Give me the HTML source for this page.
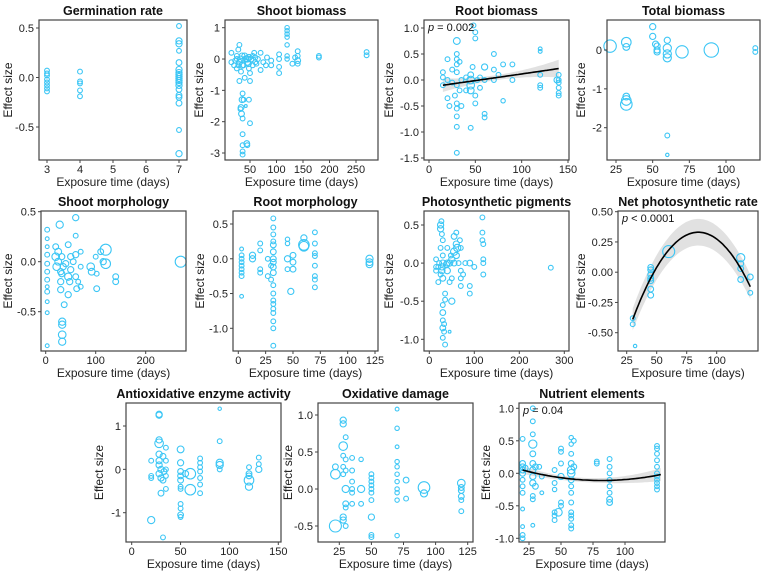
<!DOCTYPE html>
<html><head><meta charset="utf-8">
<style>
html,body{margin:0;padding:0;background:#fff;}
svg{display:block;font-family:"Liberation Sans",Arial,sans-serif;}
</style></head>
<body>
<svg id="chart" width="764" height="573" viewBox="0 0 764 573" xmlns="http://www.w3.org/2000/svg"></svg>
<script>
// ---- data: [exposure time (days), effect size, weight] ----
const germinationPts = [[3,0.07,1],[3,0.04,1],[3,0.02,1],[3,-0.02,1],[3,-0.05,1],[3,-0.08,1],[3,-0.11,1],[3,-0.14,1],
[4,0.06,1],[4,-0.04,1],[4,-0.06,1],[4,-0.13,1],[4,-0.19,1],
[7,0.52,1],[7,0.37,1.3],[7,0.34,1.3],[7,0.27,1],[7,0.15,1.2],[7,0.08,1.3],[7,0.05,1.3],[7,0.03,1.3],[7,0.01,1.3],[7,-0.01,1.3],[7,-0.03,1.3],[7,-0.05,1.3],[7,-0.08,1.3],[7,-0.12,1.2],[7,-0.18,1.2],[7,-0.2,1.2],[7,-0.26,1.2],[7,-0.53,1],[7,-0.77,1.3]];
const shootBiomassPts = [[15,0.2,1],[15,-0.1,1],[20,-0.2,1],[22,-0.05,1],[25,0.1,1],[25,-0.3,1],[28,0.3,1],[30,0.45,1],[30,-0.1,1.2],[30,-0.7,1],[32,0,1.2],[33,-0.4,1],[35,-0.2,1.2],[35,0.1,1.2],[36,-1.1,1],[35,-1.3,1.2],[33,-1.55,1.2],[32,-1.6,1],[34,-1.75,1.2],[36,-1.9,1],[38,-1.3,1],[36,-2.4,1],[36,-2.75,1],[36,-2.95,1],[36,-3.05,1],[44,-2.7,1.2],[45,-2.75,1],[42,-1.5,0.6],[48,-1.3,1],[50,-2.05,1],[40,-0.6,1],[42,0,1.3],[45,-0.1,1.3],[48,0.05,1.3],[48,-0.3,1],[50,-0.7,1],[50,-0.45,1],[52,0,1.2],[55,-0.2,1],[58,0.2,1],[60,0.05,1],[62,-0.15,1],[65,0,1],[70,0.2,1],[70,-0.35,1],[75,-0.1,1],[80,-0.2,1],[82,0.05,1],[90,-0.05,1],[90,-0.2,1],[105,0.15,1],[105,0,1],[105,-0.25,1],[105,-0.45,1],[120,1,0.9],[120,0.9,0.9],[120,0.8,0.9],[120,0.7,0.9],[120,0.45,0.9],[120,0.1,0.9],[120,0,0.9],[130,-0.15,1],[135,0.05,1],[140,0.25,1],[140,0.1,1],[140,-0.05,1.2],[140,-0.15,1],[180,0.05,1],[180,0.1,1],[270,0.22,1],[270,0.12,1],[40,0.1,1.2],[45,0,1.3],[47,-0.15,1.2],[38,-0.2,1],[28,-0.2,1],[25,0,1],[55,0.1,1],[60,-0.1,1]];
const rootBiomassPts = [[15,0.15,1],[15,0.05,1],[15,-0.1,1],[20,0.4,1],[20,0,1],[20,-0.35,1],[22,-0.5,1],[25,0.2,1],[25,-0.05,1],[28,-0.3,1],[30,0.75,1.4],[30,0.5,1],[30,0.4,1],[30,0.3,1],[30,0.15,1],[30,-0.1,1],[30,-0.45,1],[30,-0.55,1],[30,-0.7,1],[30,-0.9,1],[30,-1.4,1],[33,0.35,1],[33,-0.2,1],[35,0,1],[35,-0.5,1],[40,-0.2,1],[40,0.05,1],[45,0,1.6],[45,-0.1,1.6],[45,-0.2,1.4],[45,0.1,1.2],[45,-0.92,1],[48,1.05,1],[50,0.92,1],[50,0.8,1],[50,-0.3,1],[50,-0.45,1],[52,0,1],[55,0.05,1],[55,-0.15,1],[60,0.25,1.3],[60,0,1],[60,-0.65,1],[60,-0.72,1],[70,0.5,1],[70,0.2,1],[70,0,1],[75,0.1,1],[80,-0.4,0.9],[80,0.3,1],[90,0.3,1],[90,0,1],[120,0.6,0.8],[120,0.55,0.8],[120,0.1,1],[120,-0.1,1],[120,-0.15,1],[138,0,1.2],[140,0.1,1],[140,0,1],[140,-0.05,1],[140,-0.15,1],[140,-0.25,1],[140,-0.3,1],[47,0.25,1]];
const totalBiomassPts = [[21,0.1,2.6],[32,0.2,2],[32,0.08,1.4],[32,-1.2,1.4],[32,-1.3,2],[32,-1.4,2.4],[50,0.6,1.3],[50,0.35,1.3],[52,0.15,1.3],[53,0.1,1.3],[53,0,1.3],[53,-0.05,1.3],[60,0.25,1.3],[60,0.05,1.7],[60,-0.1,1.7],[60,-0.2,1.7],[60,-2.2,1],[60,-2.7,0.7],[70,-0.05,2.6],[90,0,3],[120,0.05,1],[120,-0.05,1]];
const shootMorphPts = [[3,0.32,1],[3,0.23,0.8],[3,0.15,0.8],[3,0.07,1],[3,-0.02,1],[3,-0.1,1],[3,-0.18,1],[3,-0.25,0.8],[3,-0.3,1],[3,-0.4,0.8],[3,-0.51,0.8],[3,-0.84,0.8],[20,0.15,1.2],[20,0.05,1.6],[22,-0.05,1.6],[25,0.1,1.4],[25,0,1.4],[28,0.37,1.5],[30,-0.1,1.3],[30,-0.2,1.3],[30,-0.28,1.3],[32,0.05,1.3],[32,-0.12,1.3],[33,-0.6,1.5],[33,-0.63,1.5],[33,-0.73,1.6],[33,-0.8,1.5],[35,-0.05,1.3],[37,-0.43,1.2],[40,-0.02,1.3],[45,0.17,1.2],[45,-0.15,1.5],[45,-0.33,1.3],[48,-0.2,1.3],[50,0.05,1.3],[50,-0.08,1.3],[55,0,1.2],[60,0.44,1.3],[60,0.26,1],[60,0.07,1.3],[60,-0.15,1.2],[62,-0.27,1.2],[65,-0.2,1],[70,0.1,1],[70,-0.05,1],[70,-0.25,1],[90,-0.05,1.6],[92,-0.1,1.4],[100,0.05,1],[102,-0.12,1],[102,-0.27,1.2],[110,0.1,1.2],[115,0,1.3],[120,0.12,2.3],[120,-0.02,2],[140,-0.15,1.2],[140,-0.2,1.2],[270,0,2.3]];
const rootMorphPts = [[3,0.14,0.8],[3,0.05,1],[3,0,1],[3,-0.05,1],[3,-0.1,1],[3,-0.15,1],[3,-0.2,1],[3,-0.25,1],[3,-0.54,0.8],[13,0.05,1.3],[13,0,1.3],[20,0.22,1],[20,0.12,1],[20,-0.15,1],[20,-0.2,1],[27,0,1],[27,-0.25,1],[30,-0.3,1],[30,-0.1,1],[32,0.58,1],[32,0.45,1],[32,0.35,1],[32,0.25,1],[32,0.2,1.2],[32,0.1,1.2],[32,0,1.2],[32,-0.05,1.2],[32,-0.12,1.2],[32,-0.2,1.2],[32,-0.38,1],[32,-0.5,1],[32,-0.6,1],[32,-0.65,1],[32,-0.72,1],[32,-0.78,1],[32,-0.9,1],[32,-1,1],[32,-1.25,1],[45,0.28,0.9],[45,0.22,0.9],[45,0,1.3],[45,-0.15,1],[48,-0.47,1.3],[50,0.05,1.2],[50,-0.05,1.2],[50,-0.15,1.2],[60,0.3,1.3],[60,0.2,2.2],[60,0.18,2],[70,0.38,1],[70,0.22,1],[70,0.08,1],[70,0.04,1],[70,-0.1,1],[70,-0.25,1],[70,-0.3,1],[70,-0.41,1],[120,0,1.5],[120,-0.05,1.4],[120,-0.08,1.4]];
const pigmentsPts = [[15,0.05,1],[15,-0.05,1],[15,-0.1,1],[20,-0.25,1],[22,0,1],[25,0.5,1.3],[25,0.45,1.3],[25,0.2,1],[25,-0.15,1],[27,0.55,1],[28,0.38,1],[28,-0.05,1.3],[28,-0.1,1.3],[30,0.3,1],[30,0.1,1],[30,0,1.3],[30,-0.2,1.2],[30,-0.55,1],[30,-0.65,1.2],[30,-0.75,1],[30,-0.85,1.2],[30,-0.98,1],[33,-0.8,1],[33,-0.9,1],[35,-0.4,1],[35,-0.48,1],[35,-1.07,1],[38,-0.02,1.3],[40,0.2,1],[40,-0.1,1.3],[45,0,1.3],[45,-0.25,1],[45,-0.9,0.6],[48,0.1,1],[50,-0.5,1.3],[50,-0.2,1],[55,0.35,1.2],[55,0.15,1.5],[55,0,1.2],[60,0.4,1],[60,0.25,1.3],[60,0.1,1.3],[62,0.2,1.5],[65,0,1],[68,0.3,1],[70,0.2,1],[70,-0.1,1],[70,-0.2,1],[70,-0.3,1],[75,-0.15,1],[80,0,1],[90,0,1.2],[90,-0.3,1],[90,-0.4,1],[100,-0.05,1],[118,0.6,1],[118,0.4,1],[118,0.3,1],[120,0.25,1],[120,0.05,1],[120,0,1],[120,-0.15,1],[270,-0.06,1],[50,0.05,1.3],[40,0,1.3],[20,-0.05,1]];
const netPhotoPts = [[30,-0.38,1],[30,-0.43,1],[32,-0.61,0.7],[45,0.04,1.2],[45,0.02,1.2],[45,-0.02,1.2],[45,-0.05,1.2],[45,-0.07,1.2],[45,-0.14,1.2],[45,-0.19,1.2],[60,0.17,2.5],[120,0.12,1.7],[120,0.07,1.2],[120,0.03,1.2],[120,-0.06,1.2],[128,-0.04,1.2],[128,-0.17,1]];
const antioxPts = [[20,0.2,1],[20,-0.15,1],[20,-0.2,1],[20,-1.17,1.5],[28,1.27,1.3],[28,1.25,1.3],[28,0.68,1.3],[28,0.6,1.8],[28,0.35,1.3],[28,0.2,1.3],[28,0.1,1.3],[28,-0.1,1.3],[30,0,1.3],[30,-0.2,1.3],[30,-0.55,1.2],[32,0.3,1.2],[32,-0.25,1.2],[33,-0.05,1.2],[35,0.5,1],[35,0.2,1],[35,0,1],[35,-0.15,1],[35,-0.45,1],[32,-1.57,1],[50,0.46,1.4],[50,0.15,1.3],[50,-0.05,1.2],[50,-0.15,1.2],[50,-0.25,1.2],[50,-0.4,1],[50,-0.45,1],[50,-0.8,1],[50,-0.9,1],[50,-1.05,1.2],[50,-1.1,1],[55,-0.1,1.3],[60,-0.1,2.2],[60,-0.47,2.2],[70,0.25,1],[70,0.15,1],[70,0.05,1],[70,-0.05,1],[70,-0.2,1],[70,-0.35,1],[70,-0.55,1],[90,1.4,0.7],[90,0.65,1],[90,0.15,1.5],[90,0.1,1.5],[90,0,1],[120,0.05,1],[120,-0.1,1.2],[120,-0.15,1.2],[120,-0.25,2],[120,-0.4,1.5],[130,0.27,1],[130,0.12,1],[130,0,1.3]];
const oxidativePts = [[22,0.3,1.2],[22,0.2,2],[22,-0.5,2.5],[28,0.93,1.3],[28,0.88,1.3],[28,0.58,1.8],[28,0.45,1],[28,0.3,1],[28,0.2,1],[28,-0.38,1.3],[28,-0.42,1.3],[30,0.7,1],[30,0.4,1],[30,0.25,1],[30,0,1.5],[30,-0.2,1.2],[30,-0.25,1],[30,-0.5,1],[35,0.42,1],[35,0.25,1],[35,0.1,1],[35,0,1],[35,-0.05,1],[35,-0.2,1],[42,0.4,0.9],[42,0,1.5],[42,-0.2,1],[50,0.2,1],[50,0.15,1],[50,0.1,1],[50,0.05,1],[50,0,1],[50,-0.05,1],[50,-0.15,1],[50,-0.38,1.3],[50,-0.62,1],[50,-0.65,1],[70,1.08,0.8],[70,0.82,0.9],[70,0.57,0.8],[70,0.37,0.9],[70,0.3,0.9],[70,0.2,0.9],[70,0.1,0.9],[70,0,0.9],[70,-0.05,0.9],[70,-0.15,0.9],[70,-0.63,0.9],[77,0.12,1.2],[77,-0.13,1],[91,0.02,2.4],[91,-0.06,1.5],[120,0.08,1.6],[120,0.02,1.2],[120,-0.02,1.2],[120,-0.1,1.2],[120,-0.15,1],[120,-0.3,1]];
const nutrientPts = [[20,0.53,1],[20,0.15,1.2],[20,0.1,1.2],[20,0.05,1.2],[20,0,1.2],[20,-0.1,1],[20,-0.2,1],[20,-0.3,1],[20,-0.55,0.8],[20,-0.82,0.8],[20,-0.95,1],[20,-1,1],[22,0.08,1.2],[28,1,1],[28,0.8,1],[28,0.6,1],[28,0.45,1.7],[28,0.3,1.2],[28,0.15,1.2],[28,0.05,1.3],[28,-0.05,1.3],[28,-0.15,1.3],[28,-0.35,1],[28,-0.8,0.8],[30,0.1,1.2],[30,-0.2,1.2],[33,0.1,1],[35,-0.05,1],[35,-0.3,0.8],[45,0.05,1],[45,-0.15,1],[45,-0.25,0.9],[45,-0.6,1],[45,-0.65,1],[45,-0.72,1],[48,-0.6,1.6],[50,0.38,1],[50,0.33,1],[50,0.15,1],[50,-0.05,1.3],[50,-0.45,1],[50,-0.5,1],[58,0.55,0.9],[58,0.45,0.9],[58,0.3,1],[58,0.15,1.2],[58,0.05,1.6],[58,0,1.6],[58,-0.1,1.2],[58,-0.2,1],[58,-0.3,1],[58,-0.45,1],[58,-0.6,1],[58,-0.65,1],[58,-0.7,1],[58,-0.8,1],[58,-0.85,1],[60,0.5,1],[60,0.1,1.2],[78,0.18,1],[78,0.15,1],[88,0.22,1],[88,0.1,1],[88,0,1],[88,-0.1,1],[88,-0.2,1],[88,-0.3,1],[88,-0.4,1.2],[88,-0.45,1.2],[125,0.42,1],[125,0.38,1],[125,0.3,1],[125,0.2,1],[125,0.1,1],[125,0,1],[125,-0.05,1],[125,-0.1,1],[125,-0.15,1],[125,-0.2,1],[125,-0.25,1],[28,-0.4,1]];

// fitted trends: knot values (x, fitted y, CI half-width)
const rootFitX = [15, 80, 140];
const rootFitY = [-0.1, 0.065, 0.22];
const rootFitCI = [0.13, 0.05, 0.17];
const netFitX = [30, 86, 128];
const netFitY = [-0.39, 0.33, -0.12];
const netFitCI = [0.09, 0.11, 0.1];
const nutFitX = [20, 85, 128];
const nutFitY = [0.05, -0.11, -0.02];
const nutFitCI = [0.06, 0.04, 0.1];

// panel tick definitions
const germXTicks=[3,4,5,6,7], germYTicks=[0.5,0,-0.5], germYLabels=["0.5","0.0","-0.5"];
const shootXTicks=[50,100,150,200,250], shootYTicks=[1,0,-1,-2,-3], shootYLabels=["1","0","-1","-2","-3"];
const rootXTicks=[0,50,100,150], rootYTicks=[1,0.5,0,-0.5,-1,-1.5], rootYLabels=["1.0","0.5","0.0","-0.5","-1.0","-1.5"];
const totXTicks=[25,50,75,100], totYTicks=[0,-1,-2], totYLabels=["0","-1","-2"];
const smXTicks=[0,100,200], smYTicks=[0.5,0,-0.5], smYLabels=["0.5","0.0","-0.5"];
const rmXTicks=[0,25,50,75,100,125], rmYTicks=[0.5,0,-0.5,-1], rmYLabels=["0.5","0.0","-0.5","-1.0"];
const pgXTicks=[0,100,200,300], pgYTicks=[0.5,0,-0.5,-1], pgYLabels=["0.5","0.0","-0.5","-1.0"];
const npXTicks=[25,50,75,100], npYTicks=[0.5,0.25,0,-0.25,-0.5], npYLabels=["0.50","0.25","0.00","-0.25","-0.50"];
const aoXTicks=[0,50,100,150], aoYTicks=[1,0,-1], aoYLabels=["1","0","-1"];
const oxXTicks=[25,50,75,100,125], oxYTicks=[1,0.5,0,-0.5], oxYLabels=["1.0","0.5","0.0","-0.5"];
const nuXTicks=[25,50,75,100], nuYTicks=[1,0.5,0,-0.5,-1], nuYLabels=["1.0","0.5","0.0","-0.5","-1.0"];

const NS="http://www.w3.org/2000/svg";
const svg=document.getElementById('chart');
function mk(tag,attrs,parent){const e=document.createElementNS(NS,tag);for(const k in attrs)e.setAttribute(k,attrs[k]);(parent||svg).appendChild(e);return e;}
function lag(xs,ys,x){let s=0;for(let i=0;i<xs.length;i++){let t=ys[i];for(let j=0;j<xs.length;j++){if(j!==i)t*=(x-xs[j])/(xs[i]-xs[j]);}s+=t;}return s;}

function panel(p){
  const g=mk('g',{});
  
  
  const sx=v=>p.xp[0]+(v-p.xv[0])*(p.xp[1]-p.xp[0])/(p.xv[1]-p.xv[0]);
  const sy=v=>p.yp[0]+(v-p.yv[0])*(p.yp[1]-p.yp[0])/(p.yv[1]-p.yv[0]);
  const cx=(p.L+p.R)/2, cy=(p.T+p.B)/2;
  const t=mk('text',{x:cx,y:p.T-5,'text-anchor':'middle','font-size':'12.5','font-weight':'bold',fill:'#111'},g);
  t.textContent=p.title;
  
  
  if(p.fit){
    const [fx,fy,fc,x0,x1]=p.fit;let up=[],lo=[],ln=[];
    for(let i=0;i<=60;i++){const x=x0+(x1-x0)*i/60;const y=lag(fx,fy,x);const c=lag(fx,fc,x);
      up.push(sx(x).toFixed(1)+','+sy(y+c).toFixed(1));lo.unshift(sx(x).toFixed(1)+','+sy(y-c).toFixed(1));ln.push(sx(x).toFixed(1)+','+sy(y).toFixed(1));}
    const band=mk('polygon',{points:up.concat(lo).join(' '),fill:'#d9d9d9','fill-opacity':'0.8'},g);
    
    
    p._line=ln;
  }
  p.pts.forEach(d=>{
    const c=mk('circle',{cx:sx(d[0]).toFixed(1),cy:sy(d[1]).toFixed(1),r:(2.4*d[2]).toFixed(1),fill:'none',stroke:'#3cc6f5','stroke-width':'1.1'},g);
    
    
  });
  if(p._line){
    const l=mk('polyline',{points:p._line.join(' '),fill:'none',stroke:'#000','stroke-width':'1.6'},g);
    
    
  }
  if(p.pval){
    const pt=mk('text',{x:p.L+4,y:p.T+11,'font-size':'11',fill:'#111'},g);
    pt.innerHTML='<tspan font-style="italic">p</tspan> '+p.pval;
    
    
  }
  const fr=mk('rect',{x:p.L,y:p.T,width:p.R-p.L,height:p.B-p.T,fill:'none',stroke:'#444','stroke-width':'1.2'},g);
  
  
  p.xt.forEach(v=>{const x=sx(v);
    mk('line',{x1:x,x2:x,y1:p.B,y2:p.B+3,stroke:'#444'},g);
    const tl=mk('text',{x:x,y:p.B+13,'text-anchor':'middle','font-size':'11',fill:'#222'},g);tl.textContent=String(v);
    
    
  });
  p.yt.forEach((v,i)=>{const y=sy(v);
    mk('line',{x1:p.L-3,x2:p.L,y1:y,y2:y,stroke:'#444'},g);
    const tl=mk('text',{x:p.L-5,y:y+4,'text-anchor':'end','font-size':'11',fill:'#222'},g);tl.textContent=p.yl[i];
    
    
  });
  const xa=mk('text',{x:cx,y:p.B+26,'text-anchor':'middle','font-size':'12',fill:'#222'},g);xa.textContent='Exposure time (days)';
  
  
  const ya=mk('text',{x:0,y:0,'text-anchor':'middle','font-size':'12',fill:'#222',transform:`translate(${p.yax},${cy}) rotate(-90)`},g);ya.textContent='Effect size';
  
  
}

panel({id:'germination-rate',title:'Germination rate',L:39,R:187,T:20,B:160,xv:[3,7],xp:[47,179],yv:[0.5,-0.5],yp:[28,127],xt:germXTicks,yt:germYTicks,yl:germYLabels,pts:germinationPts,yax:12});
panel({id:'shoot-biomass',title:'Shoot biomass',L:225,R:378,T:20,B:160,xv:[50,250],xp:[250,356],yv:[1,-3],yp:[27.7,153],xt:shootXTicks,yt:shootYTicks,yl:shootYLabels,pts:shootBiomassPts,yax:203});
panel({id:'root-biomass',title:'Root biomass',L:424,R:569,T:20,B:160,xv:[0,150],xp:[429,568],yv:[1,-1.5],yp:[28,158],xt:rootXTicks,yt:rootYTicks,yl:rootYLabels,pts:rootBiomassPts,yax:393,fit:[rootFitX,rootFitY,rootFitCI,15,140],pval:'= 0.002'});
panel({id:'total-biomass',title:'Total biomass',L:607,R:760,T:20,B:160,xv:[25,100],xp:[616,726],yv:[0,-2],yp:[50,127.7],xt:totXTicks,yt:totYTicks,yl:totYLabels,pts:totalBiomassPts,yax:585});
panel({id:'shoot-morphology',title:'Shoot morphology',L:41,R:186,T:211,B:351,xv:[0,200],xp:[45.7,145.7],yv:[0.5,-0.5],yp:[211.7,311.7],xt:smXTicks,yt:smYTicks,yl:smYLabels,pts:shootMorphPts,yax:12});
panel({id:'root-morphology',title:'Root morphology',L:233,R:378,T:211,B:351,xv:[0,125],xp:[238.3,375],yv:[0.5,-1],yp:[224,328.3],xt:rmXTicks,yt:rmYTicks,yl:rmYLabels,pts:rootMorphPts,yax:204});
panel({id:'photosynthetic-pigments',title:'Photosynthetic pigments',L:424,R:569,T:211,B:351,xv:[0,300],xp:[429.3,564.3],yv:[0.5,-1],yp:[225,339.3],xt:pgXTicks,yt:pgYTicks,yl:pgYLabels,pts:pigmentsPts,yax:393});
panel({id:'net-photosynthetic-rate',title:'Net photosynthetic rate',L:618,R:758,T:211,B:351,xv:[25,100],xp:[626.7,716.7],yv:[0.5,-0.5],yp:[211.7,332.7],xt:npXTicks,yt:npYTicks,yl:npYLabels,pts:netPhotoPts,yax:585,fit:[netFitX,netFitY,netFitCI,30,128],pval:'< 0.0001'});
panel({id:'antioxidative-enzyme-activity',title:'Antioxidative enzyme activity',L:126,R:281,T:403,B:542,xv:[0,150],xp:[131.7,278.3],yv:[1,-1],yp:[426,512.7],xt:aoXTicks,yt:aoYTicks,yl:aoYLabels,pts:antioxPts,yax:103});
panel({id:'oxidative-damage',title:'Oxidative damage',L:318,R:473,T:403,B:542,xv:[25,125],xp:[339.3,467.7],yv:[1,-0.5],yp:[415,526],xt:oxXTicks,yt:oxYTicks,yl:oxYLabels,pts:oxidativePts,yax:292});
panel({id:'nutrient-elements',title:'Nutrient elements',L:519,R:665,T:403,B:542,xv:[25,100],xp:[529,625],yv:[1,-1],yp:[408.3,538.3],xt:nuXTicks,yt:nuYTicks,yl:nuYLabels,pts:nutrientPts,yax:490,fit:[nutFitX,nutFitY,nutFitCI,20,128],pval:'= 0.04'});
</script>
</body></html>
